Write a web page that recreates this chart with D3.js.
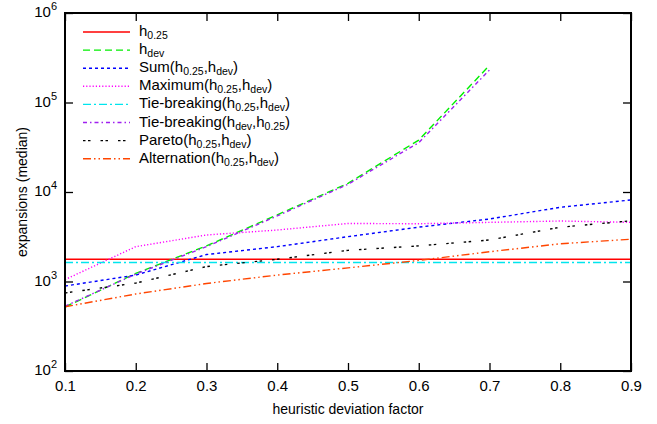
<!DOCTYPE html>
<html>
<head>
<meta charset="utf-8">
<script src="https://cdn.jsdelivr.net/npm/d3@7"></script>
<style>
  html, body { margin: 0; padding: 0; background: #fff; }
  svg { display: block; font-family: "Liberation Sans", Arial, sans-serif; }
</style>
</head>
<body>
<svg id="chart" width="657" height="424"></svg>
<script>
// heuristic deviation factor (x) values
const factors = [0.1, 0.2, 0.3, 0.4, 0.5, 0.6, 0.7, 0.8, 0.9];

// median node expansions per configuration
const h025        = [1770, 1770, 1770, 1770, 1770, 1770, 1770, 1770, 1770];
const hdev        = [519, 1230, 2500, 5550, 12500, 38000, 260000];
const sumH        = [890, 1180, 2000, 2450, 3170, 4050, 4990, 6750, 8150];
const maximumH    = [1050, 2450, 3310, 3760, 4450, 4420, 4580, 4740, 4580];
const tieH025Hdev = [1630, 1630, 1630, 1630, 1630, 1630, 1630, 1630, 1630];
const tieHdevH025 = [530, 1210, 2450, 5400, 12200, 35600, 231000];
const pareto      = [745, 960, 1470, 1770, 2230, 2500, 2910, 4040, 4770];
const alternation = [522, 725, 950, 1180, 1420, 1720, 2150, 2640, 2970];

const xTicks = [0.1, 0.2, 0.3, 0.4, 0.5, 0.6, 0.7, 0.8, 0.9];
const yTicks = [1e2, 1e3, 1e4, 1e5, 1e6];
const yTickExp = ["2", "3", "4", "5", "6"];

// legend labels; "_{...}" marks a subscript
const series = [
  { name: "h_{0.25}", values: h025, color: "#ff0000", dash: null },
  { name: "h_{dev}", values: hdev, color: "#00ee00", dash: "7,4" },
  { name: "Sum(h_{0.25},h_{dev})", values: sumH, color: "#0000ff", dash: "3,3" },
  { name: "Maximum(h_{0.25},h_{dev})", values: maximumH, color: "#ff00ff", dash: "1.2,2" },
  { name: "Tie-breaking(h_{0.25},h_{dev})", values: tieH025Hdev, color: "#00e5ee", dash: "8,3,2,3" },
  { name: "Tie-breaking(h_{dev},h_{0.25})", values: tieHdevH025, color: "#a020f0", dash: "4,3,1.5,3" },
  { name: "Pareto(h_{0.25},h_{dev})", values: pareto, color: "#000000", dash: "2.5,2.5,2.5,10" },
  { name: "Alternation(h_{0.25},h_{dev})", values: alternation, color: "#ff4500", dash: "8,3,1.5,3,1.5,3" }
];

const svg = d3.select("#chart");
const pLeft = 65, pRight = 631, pTop = 13, pBottom = 371;

const x = d3.scaleLinear().domain([0.1, 0.9]).range([pLeft, pRight]);
const y = d3.scaleLog().domain([1e2, 1e6]).range([pBottom, pTop]);

// write a label with subscripts into a <text> element
function richText(sel, str, baseSize, subSize, drop) {
  const parts = str.split(/(_\{[^}]*\})/).filter(s => s.length);
  let shift = 0;
  parts.forEach(p => {
    if (p.startsWith("_{")) {
      sel.append("tspan").attr("font-size", subSize).attr("dy", drop - shift).text(p.slice(2, -1));
      shift = drop;
    } else {
      sel.append("tspan").attr("font-size", baseSize).attr("dy", -shift).text(p);
      shift = 0;
    }
  });
}

// series lines
const line = d3.line()
  .x((d, i) => x(factors[i]))
  .y(d => y(d));

const plot = svg.append("g");
series.forEach(s => {
  plot.append("path")
    .datum(s.values)
    .attr("fill", "none")
    .attr("stroke", s.color)
    .attr("stroke-width", 1.4)
    .attr("stroke-dasharray", s.dash)
    .attr("d", line);
});

// axes with inward ticks on all four sides
const axB = svg.append("g").attr("transform", `translate(0,${pBottom})`)
  .call(d3.axisBottom(x).tickValues(xTicks).tickSize(-8).tickSizeOuter(0).tickPadding(9).tickFormat(d3.format(".1f")));
const axT = svg.append("g").attr("transform", `translate(0,${pTop})`)
  .call(d3.axisTop(x).tickValues(xTicks).tickSize(-8).tickSizeOuter(0).tickFormat(""));
const axL = svg.append("g").attr("transform", `translate(${pLeft},0)`)
  .call(d3.axisLeft(y).tickValues(yTicks).tickSize(-8).tickSizeOuter(0).tickFormat(""));
const axR = svg.append("g").attr("transform", `translate(${pRight},0)`)
  .call(d3.axisRight(y).tickValues(yTicks).tickSize(-8).tickSizeOuter(0).tickFormat(""));

[axB, axT, axL, axR].forEach(a => {
  a.select(".domain").remove();
  a.selectAll(".tick line").attr("stroke", "#000").attr("stroke-width", 1.3);
});
[axT, axL, axR].forEach(a => a.selectAll(".tick text").remove());
axB.selectAll(".tick text").attr("font-size", 15).attr("fill", "#000")
  .attr("font-family", "Liberation Sans, Arial, sans-serif");

// power-of-ten labels on the y axis
axL.selectAll(".tick").each(function(d, i) {
  const t = d3.select(this).append("text")
    .attr("x", -8).attr("dy", "0.36em")
    .attr("text-anchor", "end").attr("fill", "#000")
    .attr("font-family", "Liberation Sans, Arial, sans-serif");
  t.append("tspan").attr("font-size", 15).text("10");
  t.append("tspan").attr("font-size", 11).attr("dy", -7).text(yTickExp[i]);
});

// frame
svg.append("rect")
  .attr("x", pLeft).attr("y", pTop)
  .attr("width", pRight - pLeft).attr("height", pBottom - pTop)
  .attr("fill", "none").attr("stroke", "#000").attr("stroke-width", 2);

// axis titles
svg.append("text")
  .attr("x", (pLeft + pRight) / 2).attr("y", 414)
  .attr("text-anchor", "middle").attr("font-size", 14).attr("fill", "#000")
  .text("heuristic deviation factor");
svg.append("text")
  .attr("transform", `translate(27,${(pTop + pBottom) / 2}) rotate(-90)`)
  .attr("text-anchor", "middle").attr("font-size", 14).attr("fill", "#000")
  .text("expansions (median)");

// legend
const legend = svg.append("g");
series.forEach((s, i) => {
  const ly = 32 + i * 18.1;
  legend.append("line")
    .attr("x1", 83).attr("x2", 130).attr("y1", ly).attr("y2", ly)
    .attr("stroke", s.color).attr("stroke-width", 1.4)
    .attr("stroke-dasharray", s.dash);
  const t = legend.append("text")
    .attr("x", 139).attr("y", ly + 4).attr("fill", "#000");
  richText(t, s.name, 15, 10.5, 3);
});
</script>
</body>
</html>
